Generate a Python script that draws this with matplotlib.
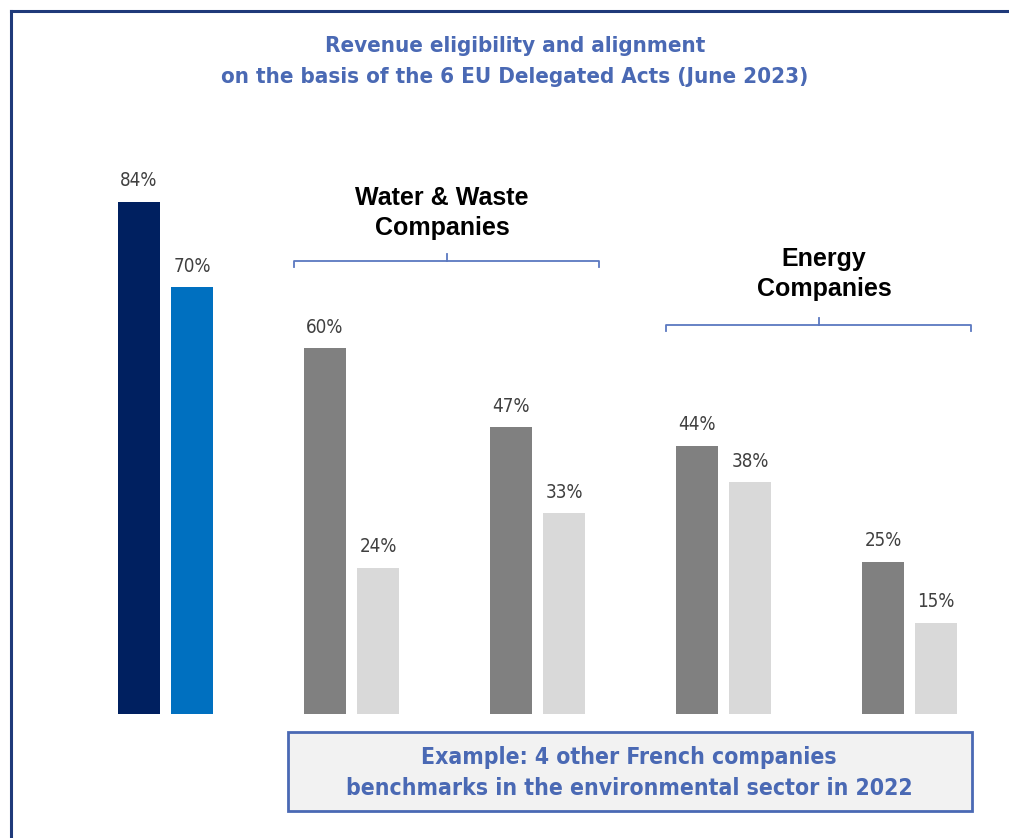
import matplotlib.pyplot as plt
from matplotlib.patches import Rectangle
from matplotlib.lines import Line2D

# Data
groups = ["Company", "Water 1", "Water 2", "Energy 1", "Energy 2"]
eligibility = [84, 60, 47, 44, 25]
alignment = [70, 24, 33, 38, 15]

title_lines = ["Revenue eligibility and alignment",
               "on the basis of the 6 EU Delegated Acts (June 2023)"]
box_lines = ["Example: 4 other French companies",
             "benchmarks in the environmental sector in 2022"]

BLUE_TXT = "#4A69B4"
NAVY = "#002060"
MID_BLUE = "#0070C0"
GRAY = "#808080"
LIGHT = "#D9D9D9"
LABEL_COL = "#404040"

cond = dict(family="DejaVu Sans", stretch="condensed")

W, H = 1009, 838
fig = plt.figure(figsize=(W / 100, H / 100), dpi=100)
ax = fig.add_axes([0, 0, 1, 1])

# pixel mapping: group 0 centre at x=165.5px, pitch 186px; baseline y=714px, 6.1px per %
pitch = 186.0
x0 = 165.5
ppu = 6.1
base = H - 714
ax.set_xlim(-x0 / pitch, (W - x0) / pitch)
ax.set_ylim(-base / ppu, (H - base) / ppu)
ax.axis("off")

off = 26.5 / pitch
bw = 42 / pitch
for i, (e, a) in enumerate(zip(eligibility, alignment)):
    c1, c2 = (NAVY, MID_BLUE) if i == 0 else (GRAY, LIGHT)
    ax.bar(i - off, e, width=bw, color=c1)
    ax.bar(i + off, a, width=bw, color=c2)
    for xx, v in ((i - off, e), (i + off, a)):
        ax.annotate(f"{v}%", (xx, v), xytext=(0, 8), textcoords="offset points",
                    ha="center", va="bottom", fontsize=13.5, color=LABEL_COL,
                    fontweight="medium", **cond)

# everything else in figure pixel coordinates (from top)
def fx(px):
    return px / W

def fy(py):
    return 1 - py / H

# frame
fig.add_artist(Line2D([fx(11), 1.0], [fy(11), fy(11)], color="#1F3A7A", lw=2.2))
fig.add_artist(Line2D([fx(11), fx(11)], [fy(11), 0.0], color="#1F3A7A", lw=2.2))

# title
for k, line in enumerate(title_lines):
    fig.text(fx(515), fy(46 + 31 * k), line, ha="center", va="center",
             fontsize=16, fontweight="bold", color=BLUE_TXT, **cond)

# group headings and brackets
heads = [("Water & Waste\nCompanies", 442, 213, 294, 599, 261),
         ("Energy\nCompanies", 824, 274, 666, 971, 325)]
for text, cx, ty, xl, xr, by in heads:
    fig.text(fx(cx), fy(ty), text, ha="center", va="center", fontsize=18,
             fontweight="bold", family="Liberation Sans", color="black",
             linespacing=1.3)
    mid = (xl + xr) / 2
    fig.add_artist(Line2D([fx(xl), fx(xl), fx(xr), fx(xr)],
                          [fy(by + 6), fy(by), fy(by), fy(by + 6)],
                          color="#5B78C0", lw=1.3))
    fig.add_artist(Line2D([fx(mid), fx(mid)], [fy(by), fy(by - 7)],
                          color="#5B78C0", lw=1.3))

# bottom box
fig.add_artist(Rectangle((fx(288), fy(811)), fx(972) - fx(288), fy(732) - fy(811),
                         facecolor="#F2F2F2", edgecolor=BLUE_TXT, lw=2))
for k, line in enumerate(box_lines):
    fig.text(fx(629), fy(757 + 31 * k), line, ha="center", va="center",
             fontsize=16.5, fontweight="bold", color=BLUE_TXT, **cond)

fig.savefig("out.png", dpi=100)
